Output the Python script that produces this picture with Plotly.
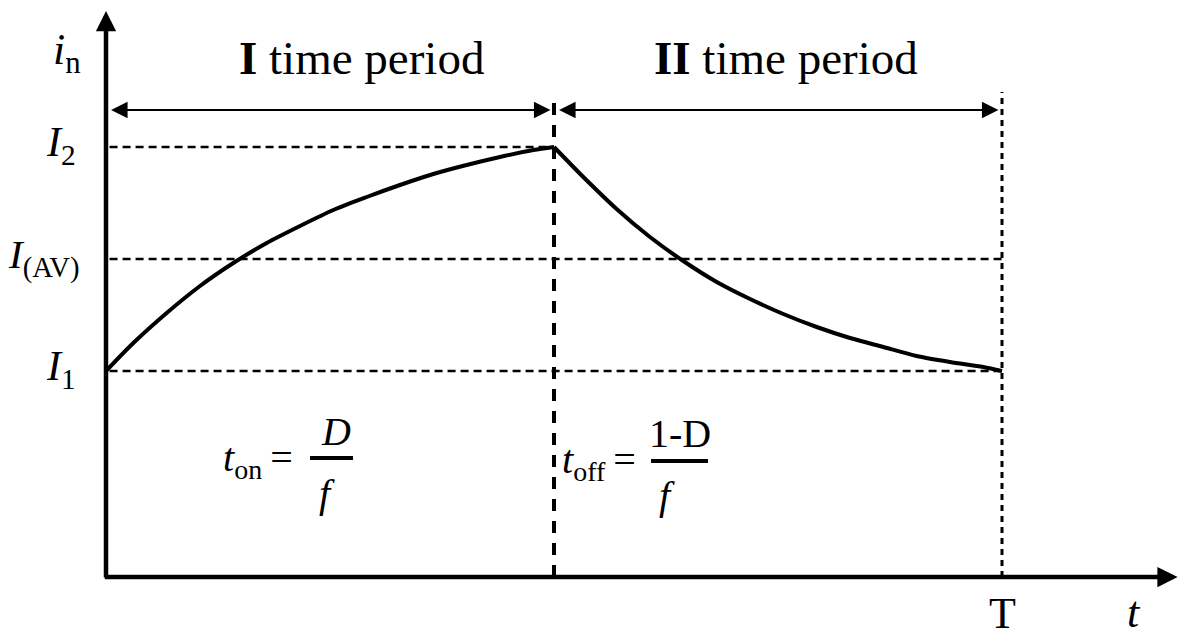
import plotly.graph_objects as go

# time in units of the period T, current in arbitrary units
t_pts = [0.0, 0.0305, 0.0677, 0.1049, 0.1421, 0.1794, 0.2165, 0.2537, 0.2910,
         0.3281, 0.3653, 0.4025, 0.4397, 0.4769, 0.5,
         0.5327, 0.5699, 0.6071, 0.6443, 0.6816, 0.7188, 0.7559, 0.7932,
         0.8304, 0.8675, 0.9048, 0.9420, 0.9791, 1.0]
i_pts = [2.06, 2.34, 2.64, 2.91, 3.14, 3.34, 3.51, 3.67, 3.80,
         3.92, 4.03, 4.12, 4.20, 4.27, 4.30,
         4.00, 3.68, 3.40, 3.16, 2.95, 2.78, 2.63, 2.50,
         2.39, 2.30, 2.21, 2.15, 2.10, 2.06]

level_labels = ["<i>I</i><sub>1</sub>", "<i>I</i><sub>(AV)</sub>", "<i>I</i><sub>2</sub>"]
level_values = [2.06, 3.18, 4.30]
level_ends = [1.0, 1.0, 0.5]

period_edges = [0.0, 0.5, 1.0]
period_labels = ["<b>I</b> time period", "<b>II</b> time period"]

FONT = "Liberation Serif"
BLACK = "black"
THIN = "\u2009"

fig = go.Figure()

# rising part and falling part drawn separately so the peak stays sharp
fig.add_trace(go.Scatter(
    x=t_pts[:15], y=i_pts[:15], mode="lines",
    line=dict(color=BLACK, width=4, shape="spline", smoothing=0.8),
    hoverinfo="skip", showlegend=False
))
fig.add_trace(go.Scatter(
    x=t_pts[14:], y=i_pts[14:], mode="lines",
    line=dict(color=BLACK, width=4, shape="spline", smoothing=0.8),
    hoverinfo="skip", showlegend=False
))

# horizontal reference levels
for val, end in zip(level_values, level_ends):
    fig.add_shape(type="line", xref="x", yref="y",
                  x0=0.004, x1=end, y0=val, y1=val,
                  line=dict(color=BLACK, width=2.5, dash="8px,5px"))

# vertical dashed lines at the end of each period
fig.add_shape(type="line", xref="x", yref="y",
              x0=period_edges[1], x1=period_edges[1], y0=0, y1=4.84,
              line=dict(color=BLACK, width=4, dash="12px,10px"))
fig.add_shape(type="line", xref="x", yref="y",
              x0=period_edges[2], x1=period_edges[2], y0=0, y1=4.85,
              line=dict(color=BLACK, width=3, dash="6px,5px"))

annotations = []

# axes with arrow heads
annotations.append(dict(x=0, y=5.66, ax=0, ay=-0.02, xref="x", yref="y",
                        axref="x", ayref="y", text="", showarrow=True,
                        arrowhead=2, arrowsize=0.9, arrowwidth=4.5,
                        arrowcolor=BLACK, standoff=0))
annotations.append(dict(x=1.196, y=0, ax=-0.003, ay=0, xref="x", yref="y",
                        axref="x", ayref="y", text="", showarrow=True,
                        arrowhead=2, arrowsize=0.9, arrowwidth=4.5,
                        arrowcolor=BLACK, standoff=0))

# double arrows spanning each period
for k in range(2):
    annotations.append(dict(x=period_edges[k + 1] - 0.004, y=4.67,
                            ax=period_edges[k] + 0.004, ay=4.67,
                            xref="x", yref="y", axref="x", ayref="y",
                            text="", showarrow=True, arrowside="end+start",
                            arrowhead=2, startarrowhead=2,
                            arrowsize=1.5, startarrowsize=1.5,
                            arrowwidth=2.2, arrowcolor=BLACK, standoff=0,
                            startstandoff=0))

# period titles
for label, xc in zip(period_labels, [0.285, 0.759]):
    annotations.append(dict(x=xc, y=5.19, xref="x", yref="y", text=label,
                            showarrow=False, font=dict(family=FONT, size=47, color=BLACK)))

# level labels
for label, val in zip(level_labels, level_values):
    wide = "AV" in label
    annotations.append(dict(x=-0.027 if wide else -0.031, y=val, xref="x", yref="y",
                            text=label, xanchor="right", showarrow=False, yshift=2,
                            font=dict(family=FONT, size=41 if wide else 42, color=BLACK)))

# axis titles
annotations.append(dict(x=-0.0435, y=5.25, xref="x", yref="y",
                        text="<i>i</i><sub>n</sub>", showarrow=False,
                        font=dict(family=FONT, size=44, color=BLACK)))
annotations.append(dict(x=1.147, y=-0.35, xref="x", yref="y",
                        text="<i>t</i>", showarrow=False,
                        font=dict(family=FONT, size=44, color=BLACK)))
annotations.append(dict(x=1.0, y=-0.36, xref="x", yref="y",
                        text="T", showarrow=False,
                        font=dict(family=FONT, size=44, color=BLACK)))

# formulas
formula_font = dict(family=FONT, size=40, color=BLACK)
annotations.append(dict(x=0.2112, y=1.17, xref="x", yref="y", xanchor="right",
                        text="<i>t</i><sub>on</sub>" + THIN + "=", showarrow=False,
                        font=formula_font))
annotations.append(dict(x=0.2567, y=1.46, xref="x", yref="y",
                        text="<i>D</i>", showarrow=False, font=formula_font))
annotations.append(dict(x=0.2467, y=0.84, xref="x", yref="y",
                        text="<i>f</i>", showarrow=False, font=formula_font))
fig.add_shape(type="line", xref="x", yref="y", x0=0.2277, x1=0.2757, y0=1.19, y1=1.19,
              line=dict(color=BLACK, width=4))

annotations.append(dict(x=0.5938, y=1.15, xref="x", yref="y", xanchor="right",
                        text="<i>t</i><sub>off</sub>" + THIN + "=", showarrow=False,
                        font=formula_font))
annotations.append(dict(x=0.6406, y=1.44, xref="x", yref="y",
                        text="1-D", showarrow=False, font=formula_font))
annotations.append(dict(x=0.6261, y=0.82, xref="x", yref="y",
                        text="<i>f</i>", showarrow=False, font=formula_font))
fig.add_shape(type="line", xref="x", yref="y", x0=0.6083, x1=0.6719, y0=1.16, y1=1.16,
              line=dict(color=BLACK, width=4))

# the page adds an 8px body margin, so the figure is 8px smaller and the
# ranges start 8px further in
fig.update_layout(
    width=1183, height=636, autosize=False,
    margin=dict(l=0, r=0, t=0, b=0),
    paper_bgcolor="white", plot_bgcolor="white",
    annotations=annotations,
    xaxis=dict(range=[-98 / 896, 1085 / 896], visible=False, fixedrange=True),
    yaxis=dict(range=[-0.67, 5.69], visible=False, fixedrange=True),
)

fig.write_html("out.html")
